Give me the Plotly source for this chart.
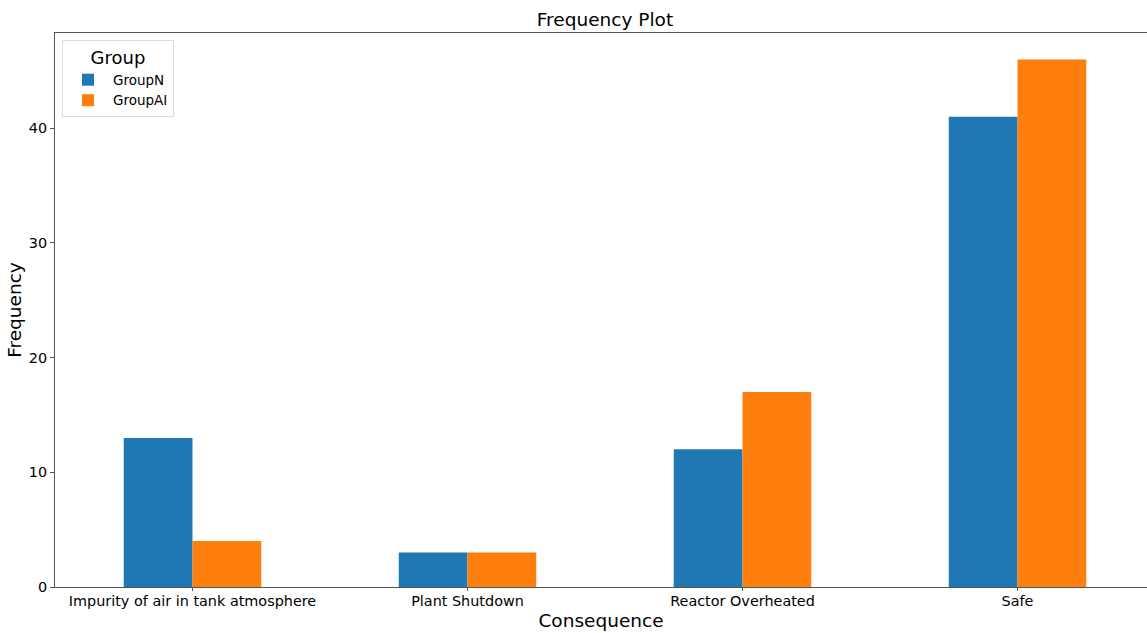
import plotly.graph_objects as go

categories = ["Impurity of air in tank atmosphere", "Plant Shutdown", "Reactor Overheated", "Safe"]
group_n = [13, 3, 12, 41]
group_ai = [4, 3, 17, 46]
series_names = ["GroupN", "GroupAI"]
colors = ["#1f77b4", "#ff7f0e"]

W, H = 1147, 633
L, R, T, B = 55, 0, 33, 46

fig = go.Figure()
for name, vals, c in zip(series_names, [group_n, group_ai], colors):
    fig.add_trace(go.Bar(x=list(range(len(categories))), y=vals, name=name,
                         marker=dict(color=c, line=dict(width=0))))

plot_w = W - L - R
x_max = -0.5 + plot_w / 275.0

fig.update_layout(
    width=W, height=H,
    margin=dict(l=L, r=R, t=T, b=B, autoexpand=False),
    paper_bgcolor="white", plot_bgcolor="white",
    font=dict(family="DejaVu Sans", size=14.4, color="black"),
    barmode="group", bargap=0.5, bargroupgap=0,
    title=dict(text="Frequency Plot", x=605 / W, xanchor="center", y=1 - 20 / H, yanchor="middle",
               font=dict(size=18.5)),
    showlegend=True,
    legend=dict(title=dict(text="Group", font=dict(size=18), side="top center"),
                x=(62 - L) / plot_w, y=1 - (40 - T) / (H - T - B), xanchor="left", yanchor="top",
                bgcolor="white", bordercolor="#dddddd", borderwidth=1,
                font=dict(size=13.5), traceorder="normal", tracegroupgap=0,
                itemwidth=40),
    xaxis=dict(tickmode="array", tickvals=list(range(len(categories))), ticktext=categories,
               range=[-0.5, x_max], showgrid=False, zeroline=False,
               showline=True, linecolor="#555555", linewidth=1, mirror=True,
               ticks="outside", ticklen=3, tickcolor="#555555", ticklabelstandoff=-2,
               title=dict(text="Consequence", font=dict(size=18.5), standoff=5)),
    yaxis=dict(range=[0, 48.3], tickvals=[0, 10, 20, 30, 40], showgrid=False, zeroline=False,
               showline=True, linecolor="#555555", linewidth=1,
               ticks="outside", ticklen=4, tickcolor="#555555",
               title=dict(text="Frequency", font=dict(size=18.5), standoff=2)),
)

fig.write_html("out.html", config={"displayModeBar": False},
               post_script="document.body.style.margin='0';document.body.style.overflow='hidden';")
